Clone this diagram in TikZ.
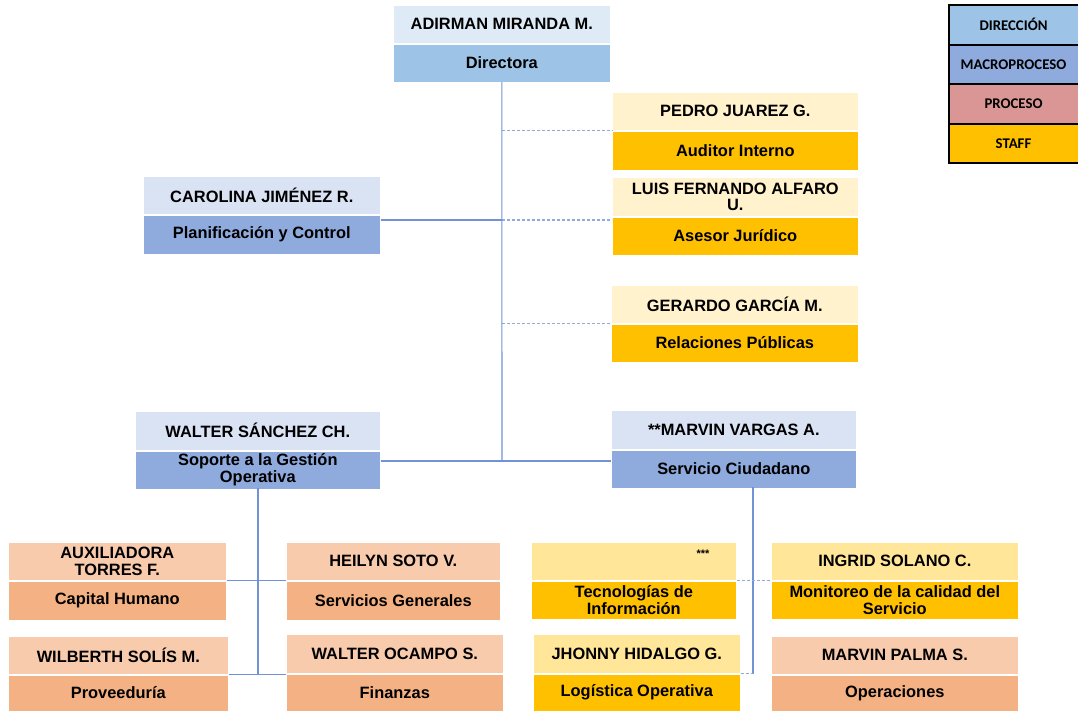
\documentclass[tikz,border=0pt]{standalone}
\usepackage{fontspec}
\setmainfont{Liberation Sans}
\newfontfamily\legfont{Carlito}
\definecolor{cDirT}{HTML}{DEEBF7}
\definecolor{cDirB}{HTML}{9DC3E6}
\definecolor{cMacT}{HTML}{DAE3F3}
\definecolor{cMacB}{HTML}{8FAADC}
\definecolor{cStfT}{HTML}{FFF2CC}
\definecolor{cStfB}{HTML}{FFC000}
\definecolor{cSt2T}{HTML}{FFE699}
\definecolor{cProT}{HTML}{F8CBAD}
\definecolor{cProB}{HTML}{F4B183}
\definecolor{cLegP}{HTML}{DA9694}
\definecolor{cLine}{HTML}{7292D6}
\definecolor{cDash}{HTML}{8FAADC}
\newcommand{\orgbox}[9]{%
  \node[band,#7T,minimum width=#4,minimum height=#5,anchor=north west] (#1T) at (#2,#3) {#8};
  \node[band,#7B,minimum width=#4,minimum height=#6,anchor=north west] (#1B) at (#1T.south west) {#9};}
\begin{document}
\begin{tikzpicture}[x=1pt,y=-1pt,
  band/.style={draw=white,line width=0.6pt,inner sep=0pt,align=center,
    font=\fontsize{16.4}{16.5}\selectfont\bfseries},
  dirT/.style={fill=cDirT}, dirB/.style={fill=cDirB},
  macT/.style={fill=cMacT}, macB/.style={fill=cMacB},
  stfT/.style={fill=cStfT}, stfB/.style={fill=cStfB},
  st2T/.style={fill=cSt2T}, st2B/.style={fill=cStfB},
  proT/.style={fill=cProT}, proB/.style={fill=cProB},
  conn/.style={draw=cLine,line width=1.1pt},
  dconn/.style={draw=cDash,line width=1.1pt,dash pattern=on 3pt off 2pt},
  legbox/.style={draw=black,line width=1pt,inner sep=0pt,minimum width=129,minimum height=38.5,
    anchor=north west,font=\legfont\fontsize{14.8}{15}\selectfont\bfseries}]
\useasboundingbox (0,0) rectangle (1078,710);
% legend
\node[legbox,fill=cDirB] (leg1) at (948.5,5) {DIRECCIÓN};
\node[legbox,fill=cMacB] (leg2) at (leg1.south west) {MACROPROCESO};
\node[legbox,fill=cLegP] (leg3) at (leg2.south west) {PROCESO};
\node[legbox,fill=cStfB] (leg4) at (leg3.south west) {STAFF};
\draw[line width=1.8pt] (leg1.north west) rectangle (leg4.south east);
% boxes
\orgbox{dir}{393}{5}{217}{38}{38}{dir}{ADIRMAN MIRANDA M.}{Directora}
\orgbox{ped}{612}{92}{246}{38}{39}{stf}{PEDRO JUAREZ G.}{Auditor Interno}
\orgbox{lui}{612}{177}{246}{39}{38}{stf}{LUIS FERNANDO ALFARO\\U.}{Asesor Jurídico}
\orgbox{ger}{611}{285}{247}{38}{38}{stf}{GERARDO GARCÍA M.}{Relaciones Públicas}
\orgbox{car}{143}{176}{237}{38}{39}{mac}{CAROLINA JIMÉNEZ R.}{Planificación y Control}
\orgbox{wsa}{135}{411}{245}{39}{38}{mac}{WALTER SÁNCHEZ CH.}{Soporte a la Gestión\\Operativa}
\orgbox{mva}{611}{410}{245}{39}{38}{mac}{**MARVIN VARGAS A.}{Servicio Ciudadano}
\orgbox{aux}{8}{542}{218}{38}{39}{pro}{AUXILIADORA\\TORRES F.}{Capital Humano}
\orgbox{hei}{286}{542}{214}{38}{39}{pro}{HEILYN SOTO V.}{Servicios Generales}
\orgbox{wil}{8}{636}{220}{38}{36}{pro}{WILBERTH SOLÍS M.}{Proveeduría}
\orgbox{woc}{286}{634}{217}{39}{37}{pro}{WALTER OCAMPO S.}{Finanzas}
\orgbox{tec}{531}{542}{205}{38}{38}{st2}{}{Tecnologías de\\Información}
\orgbox{ing}{771}{542}{247}{38}{38}{st2}{INGRID SOLANO C.}{Monitoreo de la calidad del\\Servicio}
\orgbox{jho}{533}{634}{207}{39}{37}{st2}{JHONNY HIDALGO G.}{Logística Operativa}
\orgbox{mpa}{771}{636}{247}{38}{36}{pro}{MARVIN PALMA S.}{Operaciones}
\node[font=\fontsize{11}{11}\selectfont\bfseries,inner sep=0pt] (tecstar) at (703,554) {***};
% connectors
\coordinate (hub) at (502,461);
\coordinate (jcar) at (502,220);
\coordinate (rtop) at (753,487);
\coordinate (ltop) at (258,488);
\draw[dconn] (dirB.south |- pedB.north west) -- (pedB.north west);
\draw[dconn] (jcar) -- (luiB.west |- jcar);
\draw[dconn] (dirB.south |- gerB.north west) -- (gerB.north west);
\draw[conn] (carB.east |- jcar) -- (jcar);
\draw[conn] (dirB.south) -- (hub);
\draw[conn] (wsaB.east |- hub) -- (mvaB.west |- hub);
\draw[conn] (ltop) -- (ltop |- wilB.north east);
\draw[conn] (auxB.north east) -- (heiB.north west);
\draw[conn] (wilB.north east) -- (wocB.north west |- wilB.north east);
\draw[conn] (rtop) -- (rtop |- jhoB.north east);
\draw[dconn] (tecB.north east) -- (ingB.north west);
\draw[dconn] (jhoB.north east) -- (rtop |- jhoB.north east);
\end{tikzpicture}
\end{document}
